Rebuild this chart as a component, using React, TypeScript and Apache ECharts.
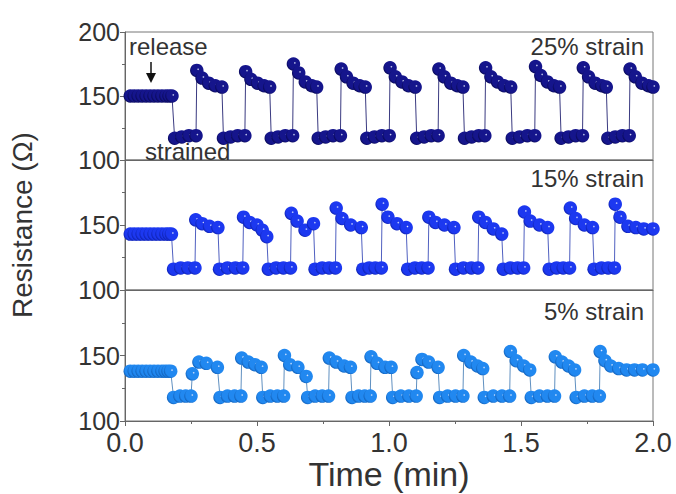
import React, { useEffect, useRef } from "react";
import * as echarts from "echarts";

// ---- Data (time in min, resistance in Ohm) ----
const t25 = [
  0.020, 0.035, 0.050, 0.065, 0.080, 0.095, 0.110, 0.125, 0.140, 0.155, 0.167, 0.178,
  0.188, 0.215, 0.242, 0.269, 0.272, 0.292, 0.317, 0.342, 0.367,
  0.373, 0.400, 0.427, 0.454, 0.457, 0.477, 0.502, 0.527, 0.548,
  0.554, 0.580, 0.607, 0.635, 0.638, 0.658, 0.683, 0.708, 0.726,
  0.732, 0.760, 0.788, 0.816, 0.819, 0.839, 0.864, 0.889, 0.910,
  0.916, 0.945, 0.973, 1.001, 1.004, 1.024, 1.049, 1.074, 1.099,
  1.105, 1.133, 1.160, 1.186, 1.189, 1.209, 1.234, 1.259, 1.280,
  1.286, 1.313, 1.340, 1.363, 1.366, 1.386, 1.411, 1.436, 1.461,
  1.467, 1.495, 1.524, 1.552, 1.555, 1.575, 1.600, 1.625, 1.646,
  1.652, 1.680, 1.707, 1.733, 1.736, 1.756, 1.781, 1.806, 1.823,
  1.829, 1.857, 1.884, 1.910, 1.913, 1.933, 1.958, 1.983, 2.000,
];
const r25 = [
  150, 150, 150, 150, 150, 150, 150, 150, 150, 150, 150, 150,
  117, 118, 119, 119, 170, 164, 160, 158, 157,
  117, 118, 119, 119, 169, 163, 160, 158, 157,
  117, 118, 119, 119, 175, 168, 161, 158, 157,
  117, 118, 119, 119, 171, 165, 160, 158, 157,
  117, 118, 119, 119, 172, 165, 161, 158, 157,
  117, 118, 119, 119, 171, 165, 160, 158, 157,
  117, 118, 119, 119, 172, 165, 161, 158, 157,
  117, 118, 119, 119, 173, 166, 161, 158, 157,
  117, 118, 119, 119, 172, 165, 160, 158, 157,
  117, 118, 119, 119, 171, 165, 160, 158, 157,
];

const t15 = [
  0.020, 0.035, 0.050, 0.065, 0.080, 0.095, 0.110, 0.125, 0.140, 0.155, 0.166, 0.176,
  0.184, 0.211, 0.238, 0.265, 0.268, 0.292, 0.320, 0.352,
  0.358, 0.388, 0.418, 0.446, 0.449, 0.472, 0.500, 0.520, 0.537,
  0.543, 0.572, 0.600, 0.627, 0.630, 0.652, 0.682, 0.714,
  0.720, 0.747, 0.773, 0.797, 0.800, 0.822, 0.855, 0.895,
  0.901, 0.925, 0.948, 0.971, 0.974, 0.996, 1.030, 1.065,
  1.071, 1.098, 1.124, 1.148, 1.151, 1.176, 1.210, 1.246,
  1.252, 1.282, 1.312, 1.337, 1.340, 1.365, 1.395, 1.427,
  1.433, 1.460, 1.487, 1.510, 1.513, 1.535, 1.570, 1.601,
  1.607, 1.635, 1.660, 1.684, 1.687, 1.707, 1.740, 1.771,
  1.777, 1.805, 1.830, 1.854, 1.857, 1.875, 1.905, 1.935, 1.965, 2.000,
];
const r15 = [
  143, 143, 143, 143, 143, 143, 143, 143, 143, 143, 143, 143,
  116, 117, 117, 117, 154, 151, 149, 148,
  116, 117, 117, 117, 156, 152, 150, 146, 141,
  116, 117, 117, 117, 159, 153, 146, 151,
  116, 117, 117, 117, 163, 155, 150, 148,
  116, 117, 117, 117, 166, 156, 151, 148,
  116, 117, 117, 117, 156, 152, 150, 148,
  116, 117, 117, 117, 156, 152, 147, 143,
  116, 117, 117, 117, 160, 153, 150, 148,
  116, 117, 117, 117, 163, 155, 150, 148,
  116, 117, 117, 117, 166, 156, 149, 148, 147, 147,
];

const t5 = [
  0.020, 0.035, 0.050, 0.065, 0.080, 0.095, 0.110, 0.125, 0.140, 0.152, 0.163, 0.173,
  0.184, 0.208, 0.230, 0.250, 0.255, 0.280, 0.308, 0.350,
  0.360, 0.388, 0.415, 0.439, 0.442, 0.467, 0.492, 0.516,
  0.522, 0.550, 0.577, 0.601, 0.604, 0.624, 0.655, 0.686,
  0.692, 0.720, 0.747, 0.771, 0.774, 0.800, 0.830, 0.854,
  0.860, 0.885, 0.908, 0.929, 0.932, 0.955, 0.985, 1.008,
  1.014, 1.045, 1.075, 1.103, 1.106, 1.125, 1.150, 1.186,
  1.192, 1.222, 1.252, 1.280, 1.283, 1.310, 1.335, 1.355,
  1.361, 1.395, 1.428, 1.457, 1.460, 1.482, 1.510, 1.533,
  1.539, 1.570, 1.600, 1.627, 1.630, 1.655, 1.680, 1.703,
  1.709, 1.740, 1.770, 1.797, 1.800, 1.818, 1.840, 1.870, 1.900, 1.930, 1.960, 2.000,
];
const r5 = [
  138, 138, 138, 138, 138, 138, 138, 138, 138, 138, 138, 138,
  118, 119, 119, 119, 136, 145, 144, 141,
  118, 119, 119, 119, 148, 145, 143, 141,
  118, 119, 119, 119, 150, 143, 141, 134,
  118, 119, 119, 119, 148, 145, 142, 141,
  118, 119, 119, 119, 149, 144, 141, 141,
  118, 119, 119, 119, 137, 147, 145, 141,
  118, 119, 119, 119, 150, 145, 142, 140,
  118, 119, 119, 119, 153, 146, 142, 139,
  118, 119, 119, 119, 149, 145, 142, 139,
  118, 119, 119, 119, 153, 146, 142, 140, 139, 139, 139, 139,
];

const panelLabels = ["25% strain", "15% strain", "5% strain"];
const xTicks = [0, 0.5, 1.0, 1.5, 2.0];

const FONT = "'Liberation Sans', Arial, sans-serif";
const TXT = "#333";

function sphere(base: string, dark: string) {
  return {
    type: "radial",
    x: 0.6,
    y: 0.42,
    r: 0.6,
    colorStops: [
      { offset: 0, color: "#e4ecff" },
      { offset: 0.16, color: base },
      { offset: 0.8, color: base },
      { offset: 1, color: dark },
    ],
  };
}

export default function App() {
  const ref = useRef<HTMLDivElement>(null);
  useEffect(() => {
    if (!ref.current) return;
    const chart = echarts.init(ref.current, null, { renderer: "svg" });
    const tops = [32, 160, 290];
    const heights = [128, 130, 131];
    const colors = [
      ["#15158c", "#0a0a5c", "#3a3a80"],
      ["#1c38f0", "#1024b8", "#5060c0"],
      ["#2188f0", "#1466c0", "#6090c0"],
    ];
    const tList = [t25, t15, t5];
    const rList = [r25, r15, r5];

    const grid = tops.map((top, i) => ({
      left: 125,
      top,
      width: 528,
      height: heights[i],
      show: true,
      borderColor: "#777",
      borderWidth: 1,
      backgroundColor: "transparent",
    }));

    const xAxis = tops.map((_, i) => ({
      type: "value",
      gridIndex: i,
      min: 0,
      max: 2,
      interval: 0.5,
      axisLine: { show: true, lineStyle: { color: "#666", width: 1 } },
      axisTick: { show: i === 2, length: 5, lineStyle: { color: "#666" } },
      minorTick: { show: i === 2, splitNumber: 2, length: 3, lineStyle: { color: "#666" } },
      splitLine: { show: false },
      axisLabel: {
        show: i === 2,
        fontSize: 27,
        lineHeight: 24,
        fontFamily: FONT,
        color: TXT,
        margin: 10,
        formatter: (v: number) => (xTicks.indexOf(v) >= 0 ? v.toFixed(1) : ""),
      },
      name: i === 2 ? "Time (min)" : "",
      nameLocation: "middle",
      nameGap: 36,
      nameTextStyle: { fontSize: 34, fontFamily: FONT, color: TXT },
    }));

    const yAxis = tops.map((_, i) => ({
      type: "value",
      gridIndex: i,
      min: 100,
      max: 200,
      interval: 50,
      axisLine: { show: true, lineStyle: { color: "#666", width: 1 } },
      axisTick: { show: true, length: 5, lineStyle: { color: "#666" } },
      minorTick: { show: true, splitNumber: 2, length: 3, lineStyle: { color: "#666" } },
      splitLine: { show: false },
      axisLabel: {
        fontSize: 25,
        lineHeight: 18,
        fontFamily: FONT,
        color: TXT,
        margin: 5,
        showMaxLabel: i === 0,
      },
      name: i === 1 ? "Resistance (Ω)" : "",
      nameLocation: "middle",
      nameRotate: 90,
      nameGap: 89,
      nameTextStyle: { fontSize: 28, fontFamily: FONT, color: TXT },
    }));

    const series = tList.map((ts, i) => ({
      type: "line",
      xAxisIndex: i,
      yAxisIndex: i,
      data: ts.map((t, k) => [t, rList[i][k]]),
      symbol: "circle",
      symbolSize: 13.5,
      showSymbol: true,
      showAllSymbol: true,
      clip: true,
      lineStyle: { color: colors[i][2], width: 1 },
      itemStyle: {
        color: sphere(colors[i][0], colors[i][1]),
        borderWidth: 0,
      },
      z: 3,
    }));

    const labelY = [46.7, 178.7, 311.7];
    const graphic: any[] = panelLabels.map((txt, i) => ({
      type: "text",
      x: 644,
      y: labelY[i],
      z: 10,
      style: {
        text: txt,
        fill: TXT,
        fontSize: 24,
        fontFamily: FONT,
        align: "right",
        verticalAlign: "middle",
      },
    }));
    graphic.push(
      {
        type: "text",
        x: 129,
        y: 46.5,
        z: 10,
        style: { text: "release", fill: TXT, fontSize: 24, fontFamily: FONT, align: "left", verticalAlign: "middle" },
      },
      {
        type: "text",
        x: 145,
        y: 151.5,
        z: 1,
        style: { text: "strained", fill: TXT, fontSize: 24, fontFamily: FONT, align: "left", verticalAlign: "middle" },
      },
      {
        type: "line",
        z: 10,
        shape: { x1: 151, y1: 62, x2: 151, y2: 74 },
        style: { stroke: "#111", lineWidth: 1.5 },
      },
      {
        type: "polygon",
        z: 10,
        shape: { points: [[146, 73], [156, 73], [151, 83]] },
        style: { fill: "#111" },
      }
    );

    chart.setOption({
      animation: false,
      backgroundColor: "#fff",
      grid,
      xAxis,
      yAxis,
      series,
      graphic,
    });
    return () => chart.dispose();
  }, []);

  return (
    <div
      ref={ref}
      style={{ position: "fixed", left: 0, top: 0, width: 676, height: 494, background: "#fff" }}
    />
  );
}
